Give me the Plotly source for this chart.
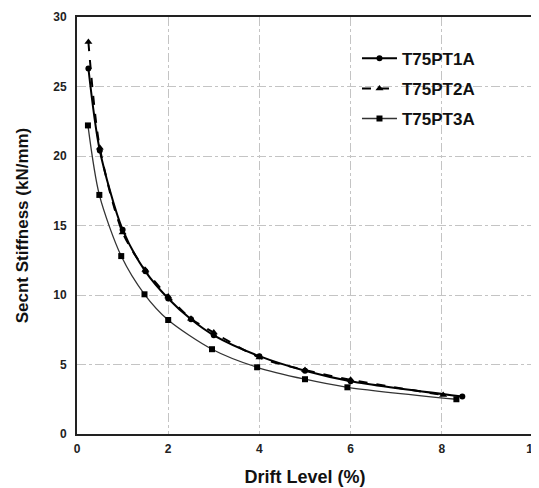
import plotly.graph_objects as go

drift1 = [0.25, 0.5, 1.0, 1.5, 2.0, 2.5, 3.0, 4.0, 5.0, 6.0, 8.45]
stiff1 = [26.3, 20.4, 14.7, 11.7, 9.75, 8.25, 7.1, 5.6, 4.55, 3.8, 2.7]

drift2 = [0.25, 0.5, 1.0, 1.5, 2.0, 2.5, 3.0, 4.0, 5.0, 6.0, 8.03]
stiff2 = [28.2, 20.6, 14.5, 11.8, 9.9, 8.3, 7.3, 5.5, 4.6, 3.9, 2.8]

drift3 = [0.24, 0.49, 0.97, 1.48, 2.0, 2.96, 3.95, 5.0, 5.93, 8.32]
stiff3 = [22.2, 17.2, 12.8, 10.05, 8.2, 6.1, 4.8, 3.94, 3.36, 2.5]

names = ["T75PT1A", "T75PT2A", "T75PT3A"]

fig = go.Figure()
fig.add_trace(go.Scatter(x=drift1, y=stiff1, name=names[0], mode="lines+markers",
                         line=dict(color="black", width=2, shape="spline", smoothing=0.8),
                         marker=dict(symbol="circle", size=6, color="black")))
fig.add_trace(go.Scatter(x=drift2, y=stiff2, name=names[1], mode="lines+markers",
                         line=dict(color="black", width=2, dash="dash", shape="spline", smoothing=0.8),
                         marker=dict(symbol="triangle-up", size=7, color="black")))
fig.add_trace(go.Scatter(x=drift3, y=stiff3, name=names[2], mode="lines+markers",
                         line=dict(color="#333333", width=1.3, shape="spline", smoothing=0.8),
                         marker=dict(symbol="square", size=6, color="black")))

FAM = "Liberation Sans, Arial"
tickfont = dict(family=FAM, size=12, color="#222", weight="bold")

# page body has an 8px default margin, so the figure is sized/offset to compensate
fig.update_layout(
    width=531, height=480,
    margin=dict(l=69, r=6, t=9, b=54),
    paper_bgcolor="white", plot_bgcolor="white",
    showlegend=True,
    legend=dict(x=0.614, y=0.943, xanchor="left", yanchor="top",
                font=dict(family=FAM, size=17, color="#111", weight="bold"),
                bgcolor="rgba(0,0,0,0)", itemwidth=35, tracegroupgap=5),
    xaxis=dict(range=[0, 10], dtick=2, showgrid=True, gridcolor="#c4c4c4", griddash="dashdot",
               gridwidth=1, showline=True, linecolor="#222", linewidth=2, mirror=True,
               ticks="", tickfont=tickfont, zeroline=False, automargin=False,
               ticklabelstandoff=3, ticklabeloverflow="allow",
               title=dict(text="Drift Level (%)", font=dict(family=FAM, size=18, color="#111", weight="bold"),
                          standoff=15)),
    yaxis=dict(range=[0, 30], dtick=5, showgrid=True, gridcolor="#c4c4c4", griddash="dashdot",
               gridwidth=1, showline=True, linecolor="#222", linewidth=2, mirror=True,
               ticks="", tickfont=tickfont, zeroline=False, automargin=False,
               ticklabelstandoff=6,
               title=dict(text="Secnt Stiffness (kN/mm)", font=dict(family=FAM, size=17, color="#111", weight="bold"),
                          standoff=20)),
)
for i, t in enumerate(fig.data):
    t.legendgroup = str(i)

fig.write_html("out.html")
